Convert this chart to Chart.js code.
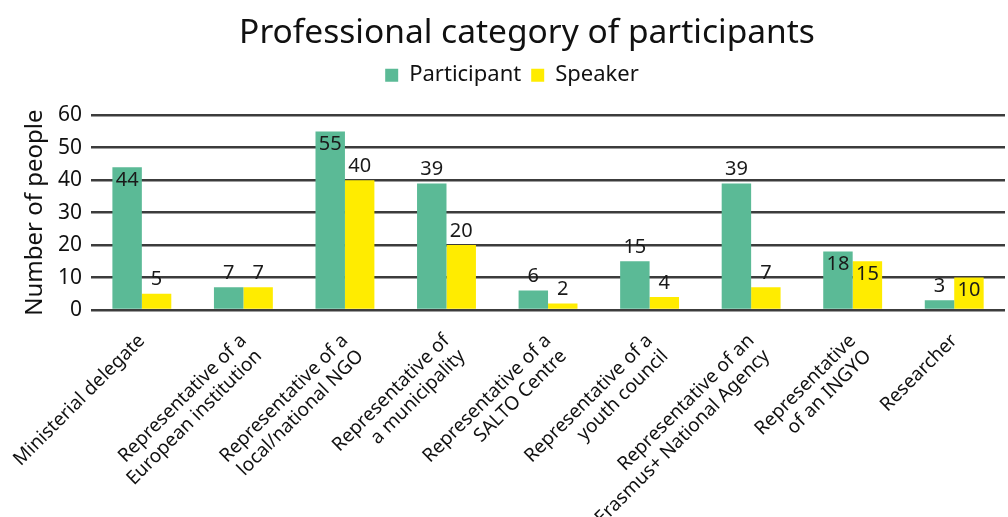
<!DOCTYPE html>
<html>
<head>
<meta charset="utf-8">
<script src="https://cdn.jsdelivr.net/npm/chart.js@4.4.0/dist/chart.umd.min.js"></script>
<style>
  html, body { margin: 0; padding: 0; background: #fff; overflow: hidden; }
  #wrap { width: 1008px; height: 517px; }
</style>
</head>
<body>
<div id="wrap"><canvas id="professional_chart" width="1008" height="517"></canvas></div>
<script>
// categories (multi-line labels)
const categories = [
    ["Ministerial delegate"],
    ["Representative of a", "European institution"],
    ["Representative of a", "local/national NGO"],
    ["Representative of", "a municipality"],
    ["Representative of a", "SALTO Centre"],
    ["Representative of a", "youth council"],
    ["Representative of an", "Erasmus+ National Agency"],
    ["Representative", "of an INGYO"],
    ["Researcher"]
];

const participant_values = [44, 7, 55, 39, 6, 15, 39, 18, 3];
const speaker_values = [5, 7, 40, 20, 2, 4, 7, 15, 10];

const y_ticks = [0, 10, 20, 30, 40, 50, 60];

const font_family = "'Noto Sans', 'Open Sans', sans-serif";

// draws the value labels; some sit just inside the top of the bar
const value_labels = {
    id: "value_labels",
    afterDatasetsDraw(chart, args, opts) {
        const ctx = chart.ctx;
        ctx.save();
        ctx.font = "20px " + font_family;
        ctx.fillStyle = "#1a1a1a";
        ctx.textAlign = "center";
        chart.data.datasets.forEach((ds, di) => {
            const meta = chart.getDatasetMeta(di);
            meta.data.forEach((bar, i) => {
                const inside = (opts.inside[di] || []).includes(i);
                ctx.textBaseline = inside ? "top" : "bottom";
                const y = inside ? bar.y + 3 : bar.y - 4;
                ctx.fillText(String(ds.data[i]), bar.x, y);
            });
        });
        ctx.restore();
    }
};

// gap under the legend, and title nudged a bit to the right
const layout_tweaks = {
    id: "layout_tweaks",
    beforeInit(chart) {
        const orig_fit = chart.legend.fit;
        chart.legend.fit = function () {
            orig_fit.call(this);
            this.height = 61;
        };
    },
    beforeDraw(chart) {
        const tb = chart.titleBlock;
        if (tb && !tb._shifted) {
            const orig_draw = tb.draw;
            tb.draw = function () {
                const ctx = this.ctx;
                ctx.save();
                ctx.translate(15, 0);
                orig_draw.call(this);
                ctx.restore();
            };
            tb._shifted = true;
        }
    }
};

const professional_chart = new Chart("professional_chart",
{
    type: "bar",
    data:
    {
        labels: categories,
        datasets:
        [
            {
                label: "Participant",
                data: participant_values,
                backgroundColor: "#5bba96",
                borderWidth: 0,
                categoryPercentage: 0.58,
                barPercentage: 1.0
            },
            {
                label: "Speaker",
                data: speaker_values,
                backgroundColor: "#ffec00",
                borderWidth: 0,
                categoryPercentage: 0.58,
                barPercentage: 1.0
            }
        ]
    },
    options:
    {
        responsive: false,
        animation: false,
        layout:
        {
            padding: { left: 19, right: 3, top: 6, bottom: 0 }
        },
        plugins:
        {
            title:
            {
                display: true,
                text: "Professional category of participants",
                color: "#111",
                font: { family: font_family, size: 33.5, weight: "normal" },
                padding: { top: 7, bottom: 1 }
            },
            legend:
            {
                display: true,
                labels:
                {
                    color: "#111",
                    font: { family: font_family, size: 22 },
                    boxWidth: 13,
                    boxHeight: 13,
                    padding: 10
                }
            },
            tooltip: { enabled: false },
            value_labels:
            {
                inside: { 0: [0, 2, 7], 1: [7, 8] }
            }
        },
        scales:
        {
            x:
            {
                grid: { display: false },
                border: { display: false },
                ticks:
                {
                    color: "#111",
                    font: { family: font_family, size: 19, lineHeight: 1.15 },
                    maxRotation: 45,
                    minRotation: 45,
                    autoSkip: false,
                    padding: 12
                },
                afterFit: (scale) => { scale.height = 207; }
            },
            y:
            {
                min: 0,
                max: 60,
                afterBuildTicks: (scale) => { scale.ticks = y_ticks.map(v => ({ value: v })); },
                afterFit: (scale) => { scale.width = 70; },
                grid:
                {
                    color: "#3c3c3c",
                    lineWidth: 2.5,
                    drawTicks: false
                },
                border: { display: false },
                ticks:
                {
                    color: "#111",
                    font: { family: font_family, size: 21 },
                    padding: 9
                },
                title:
                {
                    display: true,
                    text: "Number of people",
                    color: "#111",
                    font: { family: font_family, size: 24 },
                    padding: { top: 0, bottom: 4 }
                }
            }
        }
    },
    plugins: [value_labels, layout_tweaks]
});
</script>
</body>
</html>
